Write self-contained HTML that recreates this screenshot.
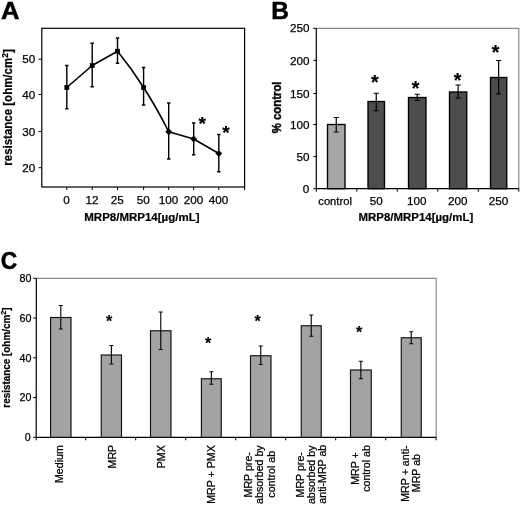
<!DOCTYPE html>
<html><head><meta charset="utf-8"><title>Figure</title>
<style>
html,body{margin:0;padding:0;background:#fff;}
svg{display:block;font-family:"Liberation Sans",Arial,sans-serif;}
text{fill:#000;stroke:#000;stroke-width:0.25px;}
.b{font-weight:bold;stroke-width:0.2px;}
.big{stroke-width:0.5px;}
</style></head><body>
<svg width="520" height="505" viewBox="0 0 520 505">
<rect x="0" y="0" width="520" height="505" fill="#ffffff"/>
<g id="panelA">
<text class="b big" transform="translate(0.9 18.6) scale(1.09 1)" font-size="23.5">A</text>
<rect x="41.8" y="28.3" width="202.8" height="158.7" fill="none" stroke="#000" stroke-width="1.2"/>
<path d="M38.6 167.70H41.8" stroke="#000" stroke-width="1"/>
<text x="35.3" y="171.70" font-size="11.7" text-anchor="end">20</text>
<path d="M38.6 131.60H41.8" stroke="#000" stroke-width="1"/>
<text x="35.3" y="135.60" font-size="11.7" text-anchor="end">30</text>
<path d="M38.6 94.50H41.8" stroke="#000" stroke-width="1"/>
<text x="35.3" y="98.50" font-size="11.7" text-anchor="end">40</text>
<path d="M38.6 59.20H41.8" stroke="#000" stroke-width="1"/>
<text x="35.3" y="63.20" font-size="11.7" text-anchor="end">50</text>
<path d="M66.80 187V190" stroke="#000" stroke-width="1"/>
<text x="66.50" y="203.8" font-size="11.7" text-anchor="middle">0</text>
<path d="M92.20 187V190" stroke="#000" stroke-width="1"/>
<text x="91.90" y="203.8" font-size="11.7" text-anchor="middle">12</text>
<path d="M117.50 187V190" stroke="#000" stroke-width="1"/>
<text x="117.20" y="203.8" font-size="11.7" text-anchor="middle">25</text>
<path d="M143.60 187V190" stroke="#000" stroke-width="1"/>
<text x="143.30" y="203.8" font-size="11.7" text-anchor="middle">50</text>
<path d="M168.70 187V190" stroke="#000" stroke-width="1"/>
<text x="168.40" y="203.8" font-size="11.7" text-anchor="middle">100</text>
<path d="M193.70 187V190" stroke="#000" stroke-width="1"/>
<text x="193.40" y="203.8" font-size="11.7" text-anchor="middle">200</text>
<path d="M218.80 187V190" stroke="#000" stroke-width="1"/>
<text x="218.50" y="203.8" font-size="11.7" text-anchor="middle">400</text>
<path d="M244.6 187V190" stroke="#000" stroke-width="1"/>
<path d="M66.80 87.5 L92.20 65.5 L117.50 51.25 Q131.50 68.25 143.60 87.5 Q156.60 107.5 168.70 131.75 L193.70 139 L218.80 153.5" stroke="#000" stroke-width="1.6" fill="none" stroke-linejoin="round"/>
<path d="M66.8 65.5V108.75M65.1 65.5H68.5M65.1 108.75H68.5" stroke="#000" stroke-width="1.4" fill="none"/>
<rect x="64.40" y="85.1" width="4.8" height="4.8" fill="#000"/>
<path d="M92.2 43.25V86.75M90.5 43.25H93.9M90.5 86.75H93.9" stroke="#000" stroke-width="1.4" fill="none"/>
<rect x="89.80" y="63.1" width="4.8" height="4.8" fill="#000"/>
<path d="M117.5 38V63.25M115.8 38H119.2M115.8 63.25H119.2" stroke="#000" stroke-width="1.4" fill="none"/>
<rect x="115.10" y="48.85" width="4.8" height="4.8" fill="#000"/>
<path d="M143.6 67.5V105M141.9 67.5H145.29999999999998M141.9 105H145.29999999999998" stroke="#000" stroke-width="1.4" fill="none"/>
<rect x="141.20" y="85.1" width="4.8" height="4.8" fill="#000"/>
<path d="M168.7 103V159M167.0 103H170.39999999999998M167.0 159H170.39999999999998" stroke="#000" stroke-width="1.4" fill="none"/>
<path d="M168.70 128.35l3.4 3.4l-3.4 3.4l-3.4 -3.4z" fill="#000"/>
<path d="M193.7 123V154.75M192.0 123H195.39999999999998M192.0 154.75H195.39999999999998" stroke="#000" stroke-width="1.4" fill="none"/>
<path d="M193.70 135.6l3.4 3.4l-3.4 3.4l-3.4 -3.4z" fill="#000"/>
<path d="M218.8 134.5V171.75M217.10000000000002 134.5H220.5M217.10000000000002 171.75H220.5" stroke="#000" stroke-width="1.4" fill="none"/>
<path d="M218.80 150.1l3.4 3.4l-3.4 3.4l-3.4 -3.4z" fill="#000"/>
<text class="b" x="202.2" y="130.2" font-size="19" text-anchor="middle">*</text>
<text class="b" x="226" y="139" font-size="19" text-anchor="middle">*</text>
<text class="b" x="141.9" y="220.5" font-size="11.5" text-anchor="middle">MRP8/MRP14[µg/mL]</text>
<text class="b" transform="translate(12.4 107.5) rotate(-90) scale(1 1.07)" font-size="11.5" text-anchor="middle">resistance [ohm/cm<tspan dy="-4" font-size="8.5">2</tspan><tspan dy="4">]</tspan></text>
</g>
<g id="panelB">
<text class="b big" transform="translate(271.2 18.6) scale(1.05 1)" font-size="23.3">B</text>
<path d="M316.3 28.3H518.8V188.7" fill="none" stroke="#8c8c8c" stroke-width="1.2"/>
<path d="M316.3 28.3V188.7H518.8" fill="none" stroke="#000" stroke-width="1.2"/>
<path d="M313.3 188.70H316.3" stroke="#000" stroke-width="1"/>
<text x="309.2" y="192.90" font-size="11.7" text-anchor="end">0</text>
<path d="M313.3 156.62H316.3" stroke="#000" stroke-width="1"/>
<text x="309.5" y="160.82" font-size="11.7" text-anchor="end">50</text>
<path d="M313.3 124.54H316.3" stroke="#000" stroke-width="1"/>
<text x="309.5" y="128.74" font-size="11.7" text-anchor="end">100</text>
<path d="M313.3 93.50H316.3" stroke="#000" stroke-width="1"/>
<text x="309.5" y="97.70" font-size="11.7" text-anchor="end">150</text>
<path d="M313.3 60.38H316.3" stroke="#000" stroke-width="1"/>
<text x="309.5" y="64.58" font-size="11.7" text-anchor="end">200</text>
<path d="M313.3 28.30H316.3" stroke="#000" stroke-width="1"/>
<text x="309.5" y="31.80" font-size="11.7" text-anchor="end">250</text>
<path d="M316.30 188.7V191.7" stroke="#000" stroke-width="1"/>
<path d="M356.80 188.7V191.7" stroke="#000" stroke-width="1"/>
<path d="M397.30 188.7V191.7" stroke="#000" stroke-width="1"/>
<path d="M437.80 188.7V191.7" stroke="#000" stroke-width="1"/>
<path d="M478.30 188.7V191.7" stroke="#000" stroke-width="1"/>
<path d="M518.80 188.7V191.7" stroke="#000" stroke-width="1"/>
<rect x="327.5" y="124.5" width="17.5" height="64.20" fill="#a6a6a6" stroke="#000" stroke-width="1.35"/>
<path d="M336.25 117.5V132M333.65 117.5H338.85M333.65 132H338.85" stroke="#000" stroke-width="1.2" fill="none"/>
<text x="335.1" y="204.8" font-size="11.2" text-anchor="middle">control</text>
<rect x="368" y="101.5" width="16.5" height="87.20" fill="#4d4d4d" stroke="#000" stroke-width="1.35"/>
<path d="M376.25 93.25V110.75M373.65 93.25H378.85M373.65 110.75H378.85" stroke="#000" stroke-width="1.2" fill="none"/>
<text x="376.2" y="205.3" font-size="11.7" text-anchor="middle">50</text>
<rect x="408.5" y="97.5" width="17.5" height="91.20" fill="#4d4d4d" stroke="#000" stroke-width="1.35"/>
<path d="M417.25 94.25V100.5M414.65 94.25H419.85M414.65 100.5H419.85" stroke="#000" stroke-width="1.2" fill="none"/>
<text x="416.7" y="205.3" font-size="11.7" text-anchor="middle">100</text>
<rect x="449.5" y="92" width="17.25" height="96.70" fill="#4d4d4d" stroke="#000" stroke-width="1.35"/>
<path d="M458.125 85V98M455.525 85H460.725M455.525 98H460.725" stroke="#000" stroke-width="1.2" fill="none"/>
<text x="457.7" y="205.3" font-size="11.7" text-anchor="middle">200</text>
<rect x="490.5" y="77.5" width="16.25" height="111.20" fill="#4d4d4d" stroke="#000" stroke-width="1.35"/>
<path d="M498.625 60.5V94M496.025 60.5H501.225M496.025 94H501.225" stroke="#000" stroke-width="1.2" fill="none"/>
<text x="498.5" y="205.3" font-size="11.7" text-anchor="middle">250</text>
<text class="b" x="374.8" y="89" font-size="19.5" text-anchor="middle">*</text>
<text class="b" x="415.6" y="94.5" font-size="19.5" text-anchor="middle">*</text>
<text class="b" x="457.6" y="87" font-size="19.5" text-anchor="middle">*</text>
<text class="b" x="495.6" y="58.5" font-size="19.5" text-anchor="middle">*</text>
<text class="b" x="415.9" y="221.1" font-size="11.45" text-anchor="middle">MRP8/MRP14[µg/mL]</text>
<text class="b" transform="translate(281.4 107.4) rotate(-90) scale(1 1.1)" font-size="11.4" text-anchor="middle" style="stroke-width:0.35px">% control</text>
</g>
<g id="panelC">
<text class="b big" transform="translate(0.8 268.7) scale(0.97 1)" font-size="23.5">C</text>
<path d="M36.2 278.3H436.2V437.3" fill="none" stroke="#8c8c8c" stroke-width="1.2"/>
<path d="M36.35 278.3L36.2 437.3H436.2" fill="none" stroke="#000" stroke-width="1.2"/>
<path d="M33.2 437.30H36.2" stroke="#000" stroke-width="1"/>
<text x="30.6" y="441.10" font-size="10.7" text-anchor="end">0</text>
<path d="M33.2 397.55H36.2" stroke="#000" stroke-width="1"/>
<text x="31.5" y="401.35" font-size="10.7" text-anchor="end">20</text>
<path d="M33.2 357.80H36.2" stroke="#000" stroke-width="1"/>
<text x="31.5" y="361.60" font-size="10.7" text-anchor="end">40</text>
<path d="M33.2 318.05H36.2" stroke="#000" stroke-width="1"/>
<text x="31.5" y="321.85" font-size="10.7" text-anchor="end">60</text>
<path d="M33.2 278.30H36.2" stroke="#000" stroke-width="1"/>
<text x="31.5" y="282.10" font-size="10.7" text-anchor="end">80</text>
<path d="M36.20 437.3V440.3" stroke="#000" stroke-width="1"/>
<path d="M85.70 437.3V440.3" stroke="#000" stroke-width="1"/>
<path d="M135.70 437.3V440.3" stroke="#000" stroke-width="1"/>
<path d="M185.70 437.3V440.3" stroke="#000" stroke-width="1"/>
<path d="M235.70 437.3V440.3" stroke="#000" stroke-width="1"/>
<path d="M285.70 437.3V440.3" stroke="#000" stroke-width="1"/>
<path d="M335.70 437.3V440.3" stroke="#000" stroke-width="1"/>
<path d="M385.70 437.3V440.3" stroke="#000" stroke-width="1"/>
<path d="M436.20 437.3V440.3" stroke="#000" stroke-width="1"/>
<rect x="50.6" y="317.5" width="20.4" height="119.80" fill="#a3a3a3" stroke="#111" stroke-width="1.15"/>
<path d="M60.8 305.5V329M58.8 305.5H62.8M58.8 329H62.8" stroke="#000" stroke-width="1.1" fill="none"/>
<rect x="101.25" y="355" width="20.25" height="82.30" fill="#a3a3a3" stroke="#111" stroke-width="1.15"/>
<path d="M111.375 345.5V364M109.375 345.5H113.375M109.375 364H113.375" stroke="#000" stroke-width="1.1" fill="none"/>
<rect x="150.5" y="330.75" width="20.5" height="106.55" fill="#a3a3a3" stroke="#111" stroke-width="1.15"/>
<path d="M160.75 312V349.5M158.75 312H162.75M158.75 349.5H162.75" stroke="#000" stroke-width="1.1" fill="none"/>
<rect x="201.4" y="378.75" width="19.849999999999994" height="58.55" fill="#a3a3a3" stroke="#111" stroke-width="1.15"/>
<path d="M211.325 371.75V384.25M209.325 371.75H213.325M209.325 384.25H213.325" stroke="#000" stroke-width="1.1" fill="none"/>
<rect x="250.5" y="355.75" width="20.5" height="81.55" fill="#a3a3a3" stroke="#111" stroke-width="1.15"/>
<path d="M260.75 346V364.5M258.75 346H262.75M258.75 364.5H262.75" stroke="#000" stroke-width="1.1" fill="none"/>
<rect x="301.25" y="325.75" width="20.0" height="111.55" fill="#a3a3a3" stroke="#111" stroke-width="1.15"/>
<path d="M311.25 315V336.25M309.25 315H313.25M309.25 336.25H313.25" stroke="#000" stroke-width="1.1" fill="none"/>
<rect x="350.5" y="370" width="20.75" height="67.30" fill="#a3a3a3" stroke="#111" stroke-width="1.15"/>
<path d="M360.875 361.25V378.75M358.875 361.25H362.875M358.875 378.75H362.875" stroke="#000" stroke-width="1.1" fill="none"/>
<rect x="401.25" y="337.75" width="20.0" height="99.55" fill="#a3a3a3" stroke="#111" stroke-width="1.15"/>
<path d="M411.25 331.75V343.75M409.25 331.75H413.25M409.25 343.75H413.25" stroke="#000" stroke-width="1.1" fill="none"/>
<text class="b" x="109" y="327" font-size="16" text-anchor="middle">*</text>
<text class="b" x="208" y="348.5" font-size="16" text-anchor="middle">*</text>
<text class="b" x="257.5" y="327" font-size="16" text-anchor="middle">*</text>
<text class="b" x="359" y="337.8" font-size="16" text-anchor="middle">*</text>
<text class="b" transform="translate(10.2 357.5) rotate(-90) scale(1 1.08)" font-size="9.9" text-anchor="middle">resistance [ohm/cm<tspan dy="-3.5" font-size="7.4">2</tspan><tspan dy="3.5">]</tspan></text>
<text transform="translate(63.40 445.2) rotate(-90)" font-size="10.65" text-anchor="end">Medium</text>
<text transform="translate(115.60 444.8) rotate(-90)" font-size="10.65" text-anchor="end">MRP</text>
<text transform="translate(164.70 445.2) rotate(-90)" font-size="10.65" text-anchor="end">PMX</text>
<text transform="translate(215.05 445.2) rotate(-90)" font-size="10.65" text-anchor="end">MRP + PMX</text>
<text transform="translate(251.80 474.8) rotate(-90)" font-size="10.65" text-anchor="middle">MRP pre-</text>
<text transform="translate(263.20 474.6) rotate(-90)" font-size="10.65" text-anchor="middle">absorbed by</text>
<text transform="translate(274.60 474.3) rotate(-90)" font-size="10.65" text-anchor="middle">control ab</text>
<text transform="translate(303.60 474.8) rotate(-90)" font-size="10.65" text-anchor="middle">MRP pre-</text>
<text transform="translate(315.00 474.8) rotate(-90)" font-size="10.65" text-anchor="middle">absorbed by</text>
<text transform="translate(325.80 474.2) rotate(-90)" font-size="10.65" text-anchor="middle">anti-MRP ab</text>
<text transform="translate(358.90 468.5) rotate(-90)" font-size="10.65" text-anchor="middle">MRP +</text>
<text transform="translate(369.90 468.5) rotate(-90)" font-size="10.65" text-anchor="middle">control ab</text>
<text transform="translate(409.20 473.6) rotate(-90)" font-size="10.65" text-anchor="middle">MRP + anti-</text>
<text transform="translate(420.20 473.1) rotate(-90)" font-size="10.65" text-anchor="middle">MRP ab</text>
</g>
</svg>
</body></html>
